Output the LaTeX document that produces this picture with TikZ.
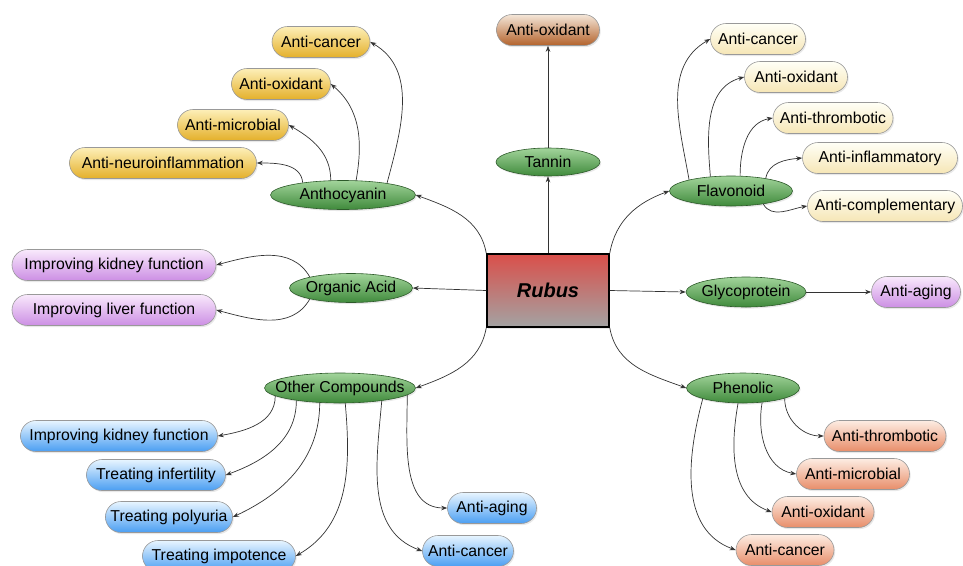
\documentclass[tikz,border=0pt]{standalone}
\usepackage{fontspec}
\setmainfont{Liberation Sans}
\usetikzlibrary{shapes.geometric,shadows,arrows.meta}
\definecolor{gtop}{HTML}{A2D49B}
\definecolor{gbot}{HTML}{3F8A3B}
\definecolor{gbd}{HTML}{2D5A2A}
\definecolor{goldtop}{HTML}{FDEFB8}
\definecolor{goldbot}{HTML}{E4B02A}
\definecolor{creamtop}{HTML}{FFFFF6}
\definecolor{creambot}{HTML}{F6E6B6}
\definecolor{browntop}{HTML}{F4E6D8}
\definecolor{brownbot}{HTML}{B3622B}
\definecolor{purptop}{HTML}{F9E9FC}
\definecolor{purpbot}{HTML}{CC8FE4}
\definecolor{bluetop}{HTML}{E8F5FF}
\definecolor{bluebot}{HTML}{4A9EF2}
\definecolor{salmtop}{HTML}{FDEDE3}
\definecolor{salmbot}{HTML}{E88D69}
\definecolor{rubtop}{HTML}{DA4F4A}
\definecolor{rubbot}{HTML}{A3A3A3}
\begin{document}
\begin{tikzpicture}[x=1pt,y=-1pt,
  base/.style={font=\fontsize{15.8}{18}\selectfont, line width=0.6pt,
    drop shadow={opacity=0.18,shadow xshift=1.2pt,shadow yshift=-1.6pt}},
  pill/.style={base, rectangle, rounded corners=15.5pt, minimum height=31pt,
    inner xsep=5pt, inner ysep=0pt, draw=black!40},
  comp/.style={base, ellipse, inner xsep=-12pt, inner ysep=0pt, draw=gbd, top color=gtop, bottom color=gbot},
  gold/.style={pill, top color=goldtop, bottom color=goldbot},
  cream/.style={pill, top color=creamtop, bottom color=creambot},
  brown/.style={pill, top color=browntop, bottom color=brownbot},
  purp/.style={pill, top color=purptop, bottom color=purpbot},
  blue/.style={pill, top color=bluetop, bottom color=bluebot},
  salm/.style={pill, top color=salmtop, bottom color=salmbot},
  arr/.style={-{Stealth[length=6pt,width=4.5pt]}, draw=black!80, line width=0.7pt}
]
\useasboundingbox (0,0) rectangle (963,565);

% centre
\node[draw=black, line width=1.5pt, top color=rubtop, bottom color=rubbot,
  minimum width=122pt, minimum height=73pt, inner sep=0pt,
  drop shadow={opacity=0.18,shadow xshift=1.2pt,shadow yshift=-1.6pt},
  font=\fontsize{20}{24}\selectfont\bfseries\itshape] (rubus) at (548,290.5) {Rubus};

% compounds
\node[comp, minimum width=104pt, minimum height=28pt] (tannin) at (548,162) {Tannin};
\node[comp, minimum width=145pt, minimum height=29pt] (antho) at (343,195) {Anthocyanin};
\node[comp, minimum width=123pt, minimum height=30pt] (flav) at (731,191) {Flavonoid};
\node[comp, minimum width=123pt, minimum height=29pt] (org) at (351,288) {Organic Acid};
\node[comp, minimum width=120pt, minimum height=30pt] (glyco) at (746,292) {Glycoprotein};
\node[comp, minimum width=151pt, minimum height=30pt] (other) at (340,388) {Other Compounds};
\node[comp, minimum width=113pt, minimum height=30pt] (phen) at (743,388) {Phenolic};

% effects
\node[brown, minimum width=103pt] (tanox) at (548,30) {Anti-oxidant};

\node[gold, minimum width=98pt] (ac1) at (321,42) {Anti-cancer};
\node[gold, minimum width=99pt] (ao1) at (281,84) {Anti-oxidant};
\node[gold, minimum width=111pt] (am1) at (233,125) {Anti-microbial};
\node[gold, minimum width=187pt] (an1) at (163,163) {Anti-neuroinflammation};

\node[cream, minimum width=95pt] (fc) at (758,39) {Anti-cancer};
\node[cream, minimum width=103pt] (fo) at (796,77) {Anti-oxidant};
\node[cream, minimum width=120pt] (ft) at (833,118) {Anti-thrombotic};
\node[cream, minimum width=155pt] (fi) at (880,158) {Anti-inflammatory};
\node[cream, minimum width=155pt] (fx) at (885,206) {Anti-complementary};

\node[purp, minimum width=204pt] (ok) at (114,265) {Improving kidney function};
\node[purp, minimum width=204pt] (ol) at (114,310) {Improving liver function};

\node[purp, minimum width=89pt] (gage) at (916,292) {Anti-aging};

\node[blue, minimum width=197pt] (ck) at (119,436) {Improving kidney function};
\node[blue, minimum width=139pt] (ci) at (156,475) {Treating infertility};
\node[blue, minimum width=124pt] (cp) at (169,517) {Treating polyuria};
\node[blue, minimum width=153pt] (cim) at (219,556) {Treating impotence};
\node[blue, minimum width=89pt] (cag) at (492,508) {Anti-aging};
\node[blue, minimum width=91pt] (cca) at (468,551) {Anti-cancer};

\node[salm, minimum width=122pt] (pt) at (885,436) {Anti-thrombotic};
\node[salm, minimum width=113pt] (pm) at (853,474) {Anti-microbial};
\node[salm, minimum width=102pt] (po) at (823,512) {Anti-oxidant};
\node[salm, minimum width=98pt] (pc) at (785,550) {Anti-cancer};

% rubus connectors
\draw[arr] (rubus.north) -- (tannin.south);
\draw[arr] (tannin.north) -- (tanox.south);
\draw[arr] (rubus.north west) to[out=100,in=-20] (antho.east);
\draw[arr] (rubus.north east) to[out=80,in=200] (flav.west);
\draw[arr] (rubus.west) -- (org.east);
\draw[arr] (rubus.east) -- (glyco.west);
\draw[arr] (glyco.east) -- (gage.west);
\draw[arr] (rubus.south west) to[out=-100,in=20] (other.east);
\draw[arr] (rubus.south east) to[out=-80,in=160] (phen.west);

% anthocyanin
\draw[arr] (antho.163) to[out=95,in=0] (an1.east);
\draw[arr] (antho.130) to[out=90,in=-30] (am1.east);
\draw[arr] (antho.48) to[out=80,in=-40] (ao1.east);
\draw[arr] (antho.15) to[out=75,in=-30] (ac1.east);

% flavonoid
\draw[arr] (flav.165) to[out=100,in=210] (fc.west);
\draw[arr] (flav.145) to[out=95,in=195] (fo.west);
\draw[arr] (flav.59) to[out=90,in=190] (ft.west);
\draw[arr] (flav.20) to[out=80,in=185] (fi.west);
\draw[arr] (flav.-22) to[out=-60,in=190] (fx.west);

% organic acid
\draw[arr] (org.165) to[out=120,in=15] (ok.east);
\draw[arr] (org.195) to[out=-120,in=-15] (ol.east);

% other compounds
\draw[arr] (other.187) to[out=-90,in=10] (ck.east);
\draw[arr] (other.196) to[out=-90,in=20] (ci.east);
\draw[arr] (other.216) to[out=-90,in=25] (cp.east);
\draw[arr] (other.289) to[out=-85,in=30] (cim.east);
\draw[arr] (other.343) to[out=-95,in=160] (cca.west);
\draw[arr] (other.354) to[out=-90,in=180] (cag.west);

% phenolic
\draw[arr] (phen.346) to[out=-90,in=180] (pt.west);
\draw[arr] (phen.323) to[out=-100,in=170] (pm.west);
\draw[arr] (phen.252) to[out=-100,in=160] (po.west);
\draw[arr] (phen.195) to[out=-105,in=160] (pc.west);
\end{tikzpicture}
\end{document}
